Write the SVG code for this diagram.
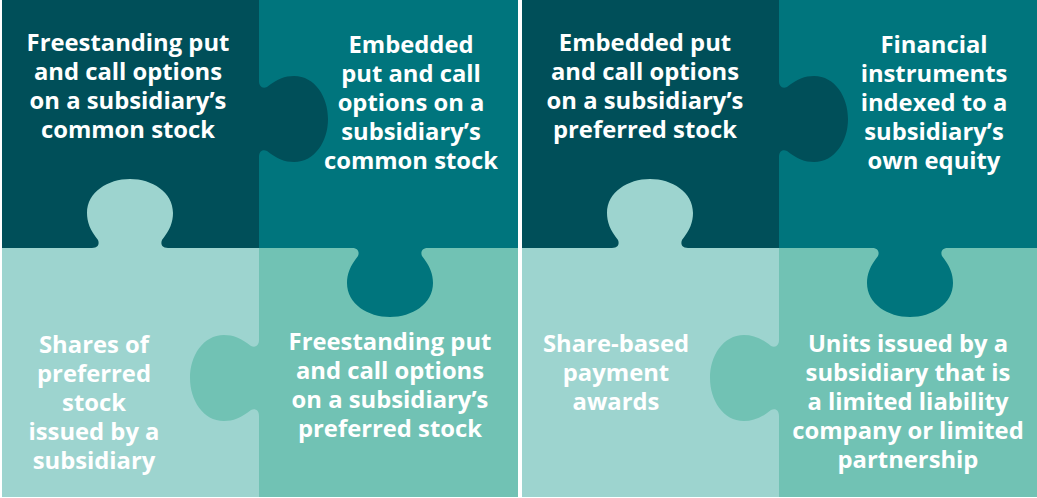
<svg xmlns="http://www.w3.org/2000/svg" width="1037" height="498" viewBox="0 0 1037 498">
<defs>
<style>
.t{font-family:"Open Sans","Liberation Sans",sans-serif;font-weight:700;font-size:23.8px;fill:#ffffff;text-anchor:middle}
.c1{fill:#004f59}
.c2{fill:#00757d}
.c3{fill:#9dd4cf}
.c4{fill:#71c2b4}
</style>
<path id="tab" d="M -38 0 C -33 0 -30 -3 -32 -8 C -40 -18 -43 -26 -43 -35 C -43 -56 -22 -69 0 -69 C 22 -69 43 -56 43 -35 C 43 -26 40 -18 32 -8 C 30 -3 33 0 38 0 Z"/>
</defs>
<rect width="1037" height="498" fill="#ffffff"/>
<g id="puzzle-left">
<g id="node-l1"><rect class="c1" x="2" y="0" width="257" height="248"/></g>
<g id="node-l2"><rect class="c2" x="259" y="0" width="259" height="248"/></g>
<g id="node-l3"><rect class="c3" x="2" y="248" width="257" height="249"/></g>
<g id="node-l4"><rect class="c4" x="259" y="248" width="259" height="249"/></g>
<use href="#tab" class="c3" transform="translate(130,248)"/>
<use href="#tab" class="c1" transform="translate(259,119) rotate(90)"/>
<use href="#tab" class="c2" transform="translate(390,248) rotate(180)"/>
<use href="#tab" class="c4" transform="translate(259,378) rotate(-90)"/>
<text class="t"><tspan x="128" y="51">Freestanding put</tspan><tspan x="128" y="80">and call options</tspan><tspan x="128" y="109">on a subsidiary’s</tspan><tspan x="128" y="138">common stock</tspan></text>
<text class="t"><tspan x="411" y="53">Embedded</tspan><tspan x="411" y="82">put and call</tspan><tspan x="411" y="111">options on a</tspan><tspan x="411" y="140">subsidiary’s</tspan><tspan x="411" y="169">common stock</tspan></text>
<text class="t"><tspan x="94" y="353">Shares of</tspan><tspan x="94" y="382">preferred</tspan><tspan x="94" y="411">stock</tspan><tspan x="94" y="440">issued by a</tspan><tspan x="94" y="469">subsidiary</tspan></text>
<text class="t"><tspan x="390" y="350">Freestanding put</tspan><tspan x="390" y="379">and call options</tspan><tspan x="390" y="408">on a subsidiary’s</tspan><tspan x="390" y="437">preferred stock</tspan></text>
</g>
<g id="puzzle-right">
<g id="node-r1"><rect class="c1" x="522" y="0" width="257" height="248"/></g>
<g id="node-r2"><rect class="c2" x="779" y="0" width="258" height="248"/></g>
<g id="node-r3"><rect class="c3" x="522" y="248" width="257" height="249"/></g>
<g id="node-r4"><rect class="c4" x="779" y="248" width="258" height="249"/></g>
<use href="#tab" class="c3" transform="translate(650,248)"/>
<use href="#tab" class="c1" transform="translate(779,119) rotate(90)"/>
<use href="#tab" class="c2" transform="translate(910,248) rotate(180)"/>
<use href="#tab" class="c4" transform="translate(779,378) rotate(-90)"/>
<text class="t"><tspan x="645" y="51">Embedded put</tspan><tspan x="645" y="80">and call options</tspan><tspan x="645" y="109">on a subsidiary’s</tspan><tspan x="645" y="138">preferred stock</tspan></text>
<text class="t"><tspan x="934" y="53">Financial</tspan><tspan x="934" y="82">instruments</tspan><tspan x="934" y="111">indexed to a</tspan><tspan x="934" y="140">subsidiary’s</tspan><tspan x="934" y="169">own equity</tspan></text>
<text class="t"><tspan x="616" y="352">Share-based</tspan><tspan x="616" y="381">payment</tspan><tspan x="616" y="410">awards</tspan></text>
<text class="t"><tspan x="908" y="352">Units issued by a</tspan><tspan x="908" y="381">subsidiary that is</tspan><tspan x="908" y="410">a limited liability</tspan><tspan x="908" y="439">company or limited</tspan><tspan x="908" y="468">partnership</tspan></text>
</g>
<g id="connectors"/>
</svg>
